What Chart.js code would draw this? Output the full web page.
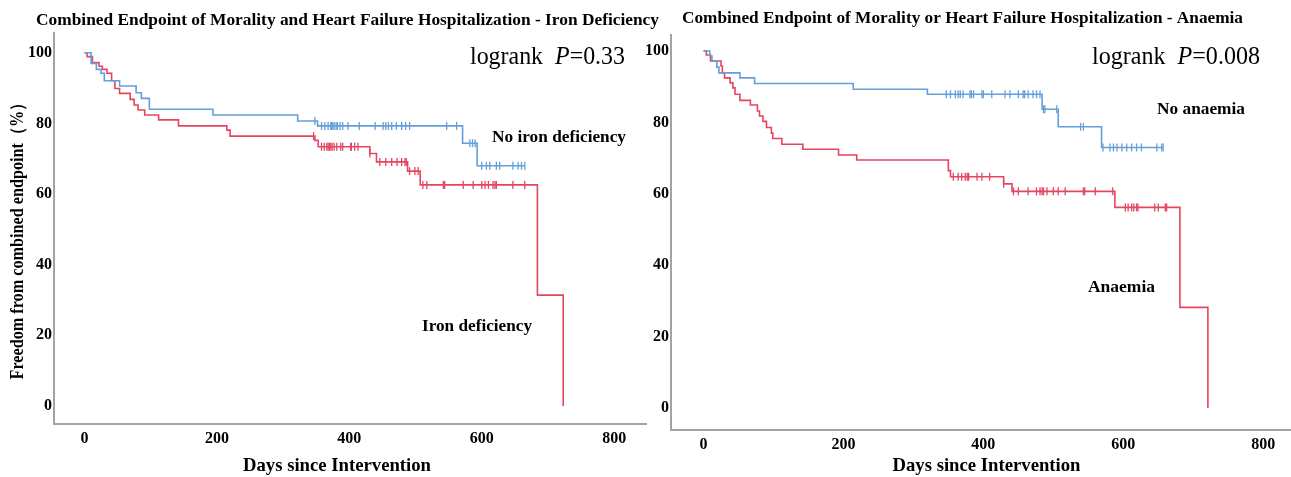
<!DOCTYPE html>
<html><head><meta charset="utf-8">
<script src="https://cdn.jsdelivr.net/npm/chart.js@4.4.1/dist/chart.umd.min.js"></script>
<style>
html,body{margin:0;padding:0;background:#fff;width:1291px;height:477px;overflow:hidden;}
canvas{position:absolute;top:0;}
#c1{left:0;} #c2{left:630px;}
</style></head><body>
<canvas id="c1" width="660" height="477"></canvas>
<canvas id="c2" width="661" height="477"></canvas>
<script>
// ---------- tick labels ----------
const xTickValues = [0, 200, 400, 600, 800];
const yTickValues = [0, 20, 40, 60, 80, 100];

// ---------- Left panel: iron deficiency ----------
const noIronDays = [0, 10, 18, 25, 30, 53, 78, 86, 98, 194, 322, 352, 571, 593, 665];
const noIronSurv = [100, 97.0, 95.3, 94.2, 92.1, 90.6, 88.7, 87.1, 84.0, 82.4, 80.7, 79.3, 74.4, 68.0, 68.0];
const noIronCensor = [348, 358, 363, 368, 372, 373, 375, 377, 380, 382, 386, 390, 398, 415, 439, 451, 455, 459, 464, 471, 479, 485, 491, 547, 562, 582, 586, 590, 600, 607, 612, 622, 627, 647, 655, 660, 665];

const ironDays = [0, 4, 12, 22, 27, 34, 41, 46, 53, 69, 75, 81, 91, 112, 142, 215, 220, 348, 353, 431, 441, 488, 507, 684, 723];
const ironSurv = [100, 98.9, 97.2, 96.2, 95.3, 94.2, 92.1, 89.9, 88.5, 86.8, 85.2, 83.8, 82.4, 81.0, 79.3, 78.1, 76.4, 75.2, 73.4, 71.5, 69.1, 66.5, 62.6, 31.4, 0];
const ironCensor = [346, 358, 362, 366, 368, 370, 372, 374, 377, 381, 387, 390, 402, 403, 408, 413, 431, 446, 455, 464, 472, 479, 484, 486, 491, 499, 504, 511, 517, 542, 544, 572, 587, 600, 605, 610, 617, 620, 622, 647, 665];

// ---------- Right panel: anaemia ----------
const noAnaemiaDays = [0, 9, 12, 19, 22, 52, 73, 214, 320, 484, 507, 569, 657];
const noAnaemiaSurv = [100, 98.6, 97.2, 95.5, 93.9, 92.5, 90.9, 89.3, 87.9, 83.7, 78.8, 73.0, 73.0];
const noAnaemiaCensor = [347, 353, 360, 364, 367, 371, 381, 383, 386, 398, 400, 412, 431, 438, 450, 457, 459, 464, 471, 476, 481, 486, 488, 505, 539, 543, 571, 581, 586, 591, 598, 605, 612, 619, 626, 648, 655, 657];

const anaemiaDays = [0, 4, 10, 25, 27, 30, 38, 42, 45, 52, 67, 77, 80, 85, 90, 97, 99, 112, 142, 193, 219, 350, 353, 429, 441, 588, 681, 721];
const anaemiaSurv = [100, 98.9, 97.2, 95.8, 93.9, 92.5, 91.1, 89.7, 87.9, 86.2, 84.9, 83.2, 81.8, 80.3, 78.6, 77.0, 75.5, 73.9, 72.5, 70.9, 69.5, 66.5, 64.8, 62.8, 60.7, 56.2, 28.2, 0];
const anaemiaCensor = [357, 364, 369, 374, 377, 379, 391, 398, 409, 429, 443, 450, 464, 476, 481, 484, 486, 491, 500, 507, 517, 543, 545, 560, 585, 603, 607, 612, 615, 619, 621, 645, 650, 660, 662];

// ---------- styles ----------
const BLUE = '#659fda';
const RED = '#e64560';
const AXIS = '#a3a3a3';
const SERIF = '"Liberation Serif", "Times New Roman", serif';

function stepPoints(days, surv) { return days.map((d, i) => ({ x: d, y: surv[i] })); }
function censorPoints(cDays, days, surv) {
  return cDays.map(d => {
    let v = surv[0];
    for (let i = 0; i < days.length; i++) { if (days[i] <= d) v = surv[i]; }
    return { x: d, y: v };
  });
}

function drawParts(ctx, parts, x, y, targetW, align, rot) {
  let w = 0;
  parts.forEach(p => { ctx.font = p.f; p.w = ctx.measureText(p.t).width; w += p.w; });
  const s = targetW ? targetW / w : 1;
  ctx.save();
  ctx.translate(x, y);
  if (rot) ctx.rotate(rot);
  ctx.scale(s, 1);
  let cx = align === 'center' ? -w / 2 : 0;
  ctx.textBaseline = 'middle'; ctx.textAlign = 'left'; ctx.fillStyle = '#000';
  parts.forEach(p => { ctx.font = p.f; ctx.fillText(p.t, cx, 0); cx += p.w; });
  ctx.restore();
}

function textPlugin(items) {
  return {
    id: 'txt',
    afterDraw(chart) {
      const ctx = chart.ctx;
      items.forEach(it => drawParts(ctx, it.parts, it.x, it.y, it.w, it.align, it.rot));
    }
  };
}

function makeChart(id, cfg) {
  const ctx = document.getElementById(id).getContext('2d');
  return new Chart(ctx, {
    type: 'line',
    data: {
      datasets: [
        { data: stepPoints(cfg.bDays, cfg.bSurv), stepped: true, borderColor: BLUE, borderWidth: 1.6, pointRadius: 0, fill: false },
        { data: stepPoints(cfg.rDays, cfg.rSurv), stepped: true, borderColor: RED, borderWidth: 1.6, pointRadius: 0, fill: false },
        { data: censorPoints(cfg.bCensor, cfg.bDays, cfg.bSurv), showLine: false, pointStyle: 'line', rotation: 90, pointRadius: 4, borderColor: BLUE, pointBorderColor: BLUE, pointBorderWidth: 1.3 },
        { data: censorPoints(cfg.rCensor, cfg.rDays, cfg.rSurv), showLine: false, pointStyle: 'line', rotation: 90, pointRadius: 4, borderColor: RED, pointBorderColor: RED, pointBorderWidth: 1.3 }
      ]
    },
    options: {
      animation: false, responsive: false, devicePixelRatio: 1,
      layout: { autoPadding: false, padding: { left: 0, top: cfg.top, right: cfg.padRight, bottom: 0 } },
      plugins: { legend: { display: false }, tooltip: { enabled: false }, title: { display: false } },
      scales: {
        x: {
          type: 'linear', min: cfg.xMin, max: cfg.xMax,
          afterBuildTicks: s => { s.ticks = xTickValues.map(v => ({ value: v })); },
          afterFit: s => { s.height = cfg.xH; },
          grid: { display: false, drawTicks: false },
          border: { display: true, color: AXIS, width: 2 },
          ticks: { color: '#000', font: { family: SERIF, size: 16, weight: 'bold' }, padding: cfg.xPad, maxRotation: 0 }
        },
        y: {
          type: 'linear', min: cfg.yMin, max: cfg.yMax,
          afterBuildTicks: s => { s.ticks = yTickValues.map(v => ({ value: v })); },
          afterFit: s => { s.width = cfg.yW; },
          grid: { display: false, drawTicks: false },
          border: { display: true, color: AXIS, width: 2 },
          ticks: { color: '#000', font: { family: SERIF, size: 16, weight: 'bold' }, padding: 2 }
        }
      }
    },
    plugins: [textPlugin(cfg.texts)]
  });
}

const bold = n => 'bold ' + n + 'px ' + SERIF;
const reg = n => n + 'px ' + SERIF;
const ital = n => 'italic ' + n + 'px ' + SERIF;

makeChart('c1', {
  bDays: noIronDays, bSurv: noIronSurv, bCensor: noIronCensor,
  rDays: ironDays, rSurv: ironSurv, rCensor: ironCensor,
  top: 33, padRight: 14, xH: 53, yW: 54, xPad: 5,
  xMin: -46, xMax: 848, yMin: -5.1, yMax: 105.6,
  texts: [
    { parts: [{ t: 'Combined Endpoint of Morality and Heart Failure Hospitalization - Iron Deficiency', f: bold(16.5) }], x: 347.5, y: 21, w: 623, align: 'center' },
    { parts: [{ t: 'Freedom from combined endpoint（%）', f: bold(18) }], x: 18, y: 237, w: 285, align: 'center', rot: -Math.PI / 2 },
    { parts: [{ t: 'Days since Intervention', f: bold(19) }], x: 337, y: 466, w: 188, align: 'center' },
    { parts: [{ t: 'logrank  ', f: reg(25) }, { t: 'P', f: ital(25) }, { t: '=0.33', f: reg(25) }], x: 470, y: 57, w: 155, align: 'left' },
    { parts: [{ t: 'No iron deficiency', f: bold(17.5) }], x: 492, y: 137, w: 134, align: 'left' },
    { parts: [{ t: 'Iron deficiency', f: bold(17.5) }], x: 422, y: 326, w: 110, align: 'left' }
  ]
});

makeChart('c2', {
  bDays: noAnaemiaDays, bSurv: noAnaemiaSurv, bCensor: noAnaemiaCensor,
  rDays: anaemiaDays, rSurv: anaemiaSurv, rCensor: anaemiaCensor,
  top: 35, padRight: 0, xH: 47, yW: 41, xPad: 5,
  xMin: -46.5, xMax: 839.8, yMin: -6.15, yMax: 104.5,
  texts: [
    { parts: [{ t: 'Combined Endpoint of Morality or Heart Failure Hospitalization - Anaemia', f: bold(16.5) }], x: 332.5, y: 19, w: 561, align: 'center' },
    { parts: [{ t: 'Days since Intervention', f: bold(19) }], x: 356.5, y: 466, w: 188, align: 'center' },
    { parts: [{ t: 'logrank  ', f: reg(25) }, { t: 'P', f: ital(25) }, { t: '=0.008', f: reg(25) }], x: 462, y: 57, w: 168, align: 'left' },
    { parts: [{ t: 'No anaemia', f: bold(17.5) }], x: 527, y: 109, w: 88, align: 'left' },
    { parts: [{ t: 'Anaemia', f: bold(17.5) }], x: 458, y: 287, w: 67, align: 'left' }
  ]
});
</script>
</body></html>
